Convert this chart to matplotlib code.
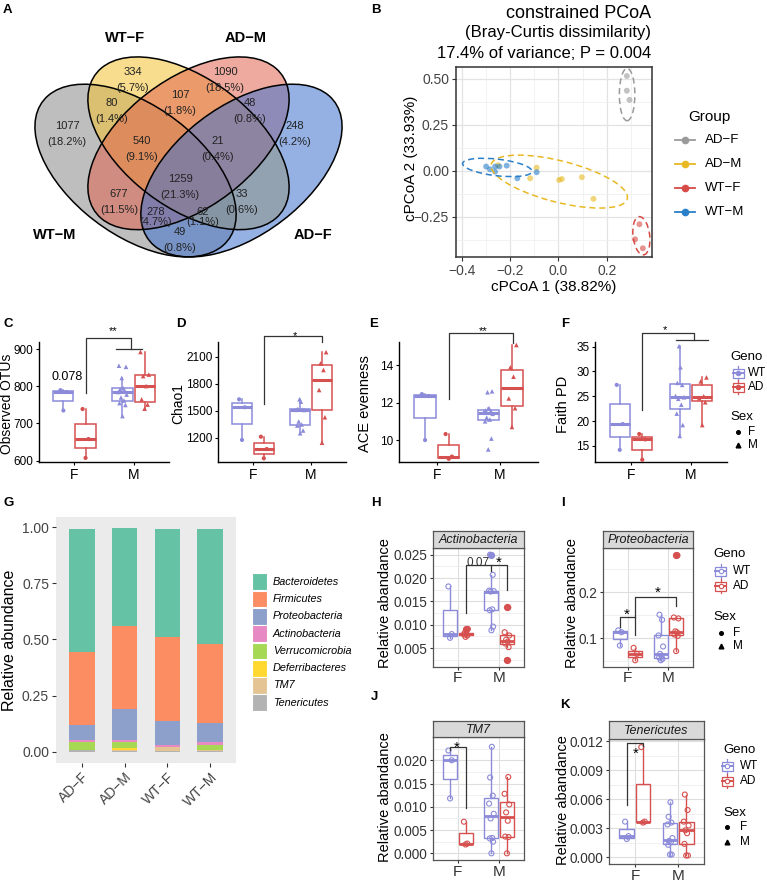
import numpy as np
import matplotlib
matplotlib.use("Agg")
import matplotlib.pyplot as plt
from matplotlib.patches import Ellipse, Rectangle

plt.rcParams['font.family'] = ['Liberation Sans', 'DejaVu Sans']
plt.rcParams['axes.unicode_minus'] = True

# ======================= DATA =======================
# A: Venn diagram (OTU counts per region)
venn_sets = ['WT−F', 'AD−M', 'WT−M', 'AD−F']
venn_counts = [334, 1090, 80, 107, 48, 1077, 248, 540, 21, 1259, 677, 33, 278, 62, 49]

# B: constrained PCoA
pcoa_groups = ['AD−F', 'AD−M', 'WT−F', 'WT−M']
adf_x = [0.283, 0.283, 0.294]
adf_y = [0.516, 0.436, 0.386]
adm_x = [-0.250, -0.117, -0.090, 0.003, 0.014, 0.097, 0.145]
adm_y = [0.030, -0.041, 0.017, -0.050, -0.045, -0.035, -0.153]
wtf_x = [0.335, 0.317, 0.349]
wtf_y = [-0.291, -0.373, -0.422]
wtm_x = [-0.299, -0.283, -0.262, -0.244, -0.262, -0.214, -0.170, -0.090]
wtm_y = [0.023, 0.008, 0.023, 0.023, -0.005, 0.028, -0.041, -0.008]
# confidence ellipses (centre x, centre y, width, height, angle)
ell_cx = [0.284, 0.0035, 0.343, -0.253]
ell_cy = [0.415, -0.059, -0.354, 0.018]
ell_w = [0.064, 0.594, 0.069, 0.290]
ell_h = [0.285, 0.220, 0.209, 0.090]
ell_ang = [0.0, -19.7, 4.7, -9.1]

# C-F: alpha diversity (F/M x WT/AD)
sexes = ['F', 'M']
genos = ['WT', 'AD']
otu_wt_f = [735, 785, 790]
otu_ad_f = [607, 658, 739]
otu_wt_m = [720, 750, 755, 762, 770, 778, 785, 788, 792, 795, 823, 853, 856]
otu_ad_m = [740, 751, 765, 801, 828, 832, 893]
chao_wt_f = [1175, 1538, 1626]
chao_ad_f = [971, 1074, 1211]
chao_wt_m = [1249, 1280, 1335, 1347, 1380, 1508, 1510, 1512, 1518, 1600, 1626]
chao_ad_m = [1144, 1427, 1730, 1952, 2025, 2150]
ace_wt_f = [10.0, 12.35, 12.45]
ace_ad_f = [9.0, 9.12, 10.32]
ace_wt_m = [9.5, 10.08, 11.0, 11.1, 11.2, 11.4, 11.5, 11.55, 11.58, 11.7, 12.55, 12.6]
ace_ad_m = [10.7, 11.7, 12.22, 13.38, 13.88, 15.07]
faith_wt_f = [14.2, 19.4, 27.3]
faith_ad_f = [12.2, 16.3, 17.4]
faith_wt_m = [17.0, 19.2, 21.5, 23.3, 24.5, 24.8, 25.06, 27.3, 27.7, 30.85, 35.1]
faith_ad_m = [19.2, 23.8, 24.6, 25.0, 28.0, 28.8]

# G: phylum composition
groups_g = ['AD−F', 'AD−M', 'WT−F', 'WT−M']
phyla = ['Bacteroidetes', 'Firmicutes', 'Proteobacteria', 'Actinobacteria',
         'Verrucomicrobia', 'Deferribacteres', 'TM7', 'Tenericutes']
bacteroidetes = [0.551, 0.435, 0.484, 0.514]
firmicutes = [0.324, 0.369, 0.372, 0.353]
proteobacteria = [0.067, 0.138, 0.107, 0.081]
actinobacteria = [0.008, 0.007, 0.007, 0.015]
verrucomicrobia = [0.033, 0.030, 0.003, 0.020]
deferribacteres = [0.002, 0.005, 0.001, 0.001]
tm7 = [0.002, 0.007, 0.017, 0.007]
tenericutes = [0.006, 0.003, 0.002, 0.002]

# H-K: relative abundance per phylum
actino_wt_f = [0.0072, 0.0080, 0.0182]
actino_ad_f = [0.0074, 0.0077, 0.0079, 0.0081, 0.0083, 0.0091]
actino_wt_m = [0.0088, 0.0096, 0.0131, 0.0133, 0.0171, 0.0172, 0.0173, 0.0207, 0.0250]
actino_ad_m = [0.0024, 0.0052, 0.0060, 0.0064, 0.0068, 0.0077, 0.0084, 0.0137]
proteo_wt_f = [0.084, 0.113, 0.117]
proteo_ad_f = [0.052, 0.066, 0.079]
proteo_wt_m = [0.052, 0.055, 0.058, 0.062, 0.066, 0.082, 0.106, 0.140, 0.151]
proteo_ad_m = [0.072, 0.105, 0.108, 0.113, 0.115, 0.143, 0.145, 0.280]
tm7_wt_f = [0.0118, 0.0200, 0.0221]
tm7_ad_f = [0.0019, 0.0021, 0.0068]
tm7_wt_m = [0.0, 0.0025, 0.0032, 0.0033, 0.0075, 0.0085, 0.0107, 0.0124, 0.0163, 0.0229]
tm7_ad_m = [0.0, 0.0035, 0.0036, 0.0070, 0.0088, 0.0105, 0.0128, 0.0164]
ten_wt_f = [0.0019, 0.0022, 0.0037]
ten_ad_f = [0.0036, 0.0037, 0.0114]
ten_wt_m = [0.0003, 0.0003, 0.0013, 0.0016, 0.0017, 0.0020, 0.0034, 0.0036, 0.0042, 0.0057]
ten_ad_m = [0.0002, 0.0002, 0.0014, 0.0025, 0.0028, 0.0033, 0.0037, 0.0049, 0.0065]

# ======================= STYLE / LAYOUT =======================
W, H = 767, 885
fig = plt.figure(figsize=(W / 100, H / 100), dpi=100)

def add_ax(x0, y0, x1, y1, **kw):
    return fig.add_axes([x0 / W, 1 - y1 / H, (x1 - x0) / W, (y1 - y0) / H], **kw)

ov = fig.add_axes([0, 0, 1, 1], zorder=50)
ov.set_xlim(0, W); ov.set_ylim(H, 0); ov.axis('off')

def T(x, y, s, size, **kw):
    kw.setdefault('ha', 'center'); kw.setdefault('va', 'center')
    kw.setdefault('color', 'black')
    ov.text(x, y, s, fontsize=size, **kw)

C_WT = '#8B8BDA'
C_AD = '#D6504F'
TXT = '#333333'
JIT = np.array([0.0, 0.05, -0.05, 0.025, -0.025, 0.07, -0.07, 0.04, -0.04,
                0.012, -0.012, 0.06, -0.06])

# panel letters
for lab, x, y in [('A', 3, 10), ('B', 371, 10), ('C', 3, 324), ('D', 176, 324),
                  ('E', 369, 324), ('F', 561, 324), ('G', 3, 503), ('H', 371, 503),
                  ('I', 561, 503), ('J', 371, 697), ('K', 560, 705)]:
    T(x, y, lab, 9.5, weight='bold', ha='left')

# ======================= A: Venn =======================
axA = add_ax(12, 13, 365, 316)
axA.set_xlim(0, 1); axA.set_ylim(0, 1); axA.axis('off')
venn_shapes = [((0.50, 0.57), 135, '#F2C230'),   # WT-F
               ((0.50, 0.57), 45, '#E0644F'),    # AD-M
               ((0.35, 0.48), 135, '#8A8A8A'),   # WT-M
               ((0.65, 0.48), 45, '#3F72CF')]    # AD-F
draw_order = [2, 0, 1, 3]
for i in draw_order:
    c, ang, col = venn_shapes[i]
    axA.add_patch(Ellipse(c, 0.70, 0.40, angle=ang, facecolor=col, alpha=0.55, lw=0))
for i in draw_order:
    c, ang, col = venn_shapes[i]
    axA.add_patch(Ellipse(c, 0.70, 0.40, angle=ang, fill=False, ec='black', lw=1.1))
venn_xy = [(133, 72, 88), (225, 72, 88), (112, 103, 119), (180, 95, 111), (250, 103, 119),
           (67, 126, 142), (295, 126, 142), (142, 141, 157), (218, 141, 157),
           (180, 179, 195), (119, 194, 210), (242, 194, 210), (156, 212, 222),
           (203, 212, 222), (180, 232, 248)]
total = sum(venn_counts)
for cnt, (x, y1, y2) in zip(venn_counts, venn_xy):
    T(x, y1, f'{cnt}', 8, color='#222222')
    T(x, y2, f'({100 * cnt / total:.1f}%)', 8, color='#222222')
for name, (x, y) in zip(venn_sets, [(125, 38), (246, 38), (55, 235), (313, 235)]):
    T(x, y, name, 10.5, weight='bold')

# ======================= B: PCoA =======================
axB = add_ax(456, 67, 652, 257)
axB.set_xlim(-0.4236, 0.387); axB.set_ylim(-0.4695, 0.565)
axB.set_xticks([-0.4, -0.2, 0.0, 0.2])
axB.set_xticklabels(['−0.4', '−0.2', '0.0', '0.2'])
axB.set_yticks([-0.25, 0.0, 0.25, 0.50])
axB.set_yticklabels(['−0.25', '0.00', '0.25', '0.50'])
axB.set_xticks([-0.3, -0.1, 0.1, 0.3], minor=True)
axB.set_yticks([-0.375, -0.125, 0.125, 0.375], minor=True)
axB.grid(which='major', color='#E3E3E3', lw=0.9)
axB.grid(which='minor', color='#F0F0F0', lw=0.6)
axB.set_axisbelow(True)
axB.tick_params(which='minor', length=0)
axB.tick_params(which='major', length=3, color=TXT, labelsize=10, labelcolor='#444444', pad=2)
for s in axB.spines.values():
    s.set_color('#333333'); s.set_linewidth(1.1)
pc_cols = ['#9A9A9A', '#E8B923', '#D64B46', '#2A7FC9']
pc_data = [(adf_x, adf_y), (adm_x, adm_y), (wtf_x, wtf_y), (wtm_x, wtm_y)]
for (xs, ys), col in zip(pc_data, pc_cols):
    axB.scatter(xs, ys, s=18, color=col, alpha=0.6, edgecolors='none', zorder=3)
for i, col in enumerate(pc_cols):
    axB.add_patch(Ellipse((ell_cx[i], ell_cy[i]), ell_w[i], ell_h[i], angle=ell_ang[i],
                          fill=False, ec=col, ls=(0, (4, 2.5)), lw=1.1, zorder=4))
ov.text(651, 13, 'constrained PCoA', fontsize=13, ha='right', va='center')
ov.text(651, 33, '(Bray-Curtis dissimilarity)', fontsize=12, ha='right', va='center')
ov.text(651, 53, '17.4% of variance; P = 0.004', fontsize=12, ha='right', va='center')
T(554, 287, 'cPCoA 1 (38.82%)', 11)
T(411, 158, 'cPCoA 2 (33.93%)', 11, rotation=90)
T(688, 117, 'Group', 11, ha='left')
for g, col, y in zip(pcoa_groups, pc_cols, [140, 164, 188, 212]):
    ov.plot([675, 695], [y, y], color=col, lw=1.3)
    ov.plot([685], [y], 'o', color=col, ms=4.5)
    T(705, y, g, 9.5, ha='left')

# ======================= C-F: alpha diversity =======================
def bracket(ax, xs, ys, lw=0.9):
    ax.plot(xs, ys, color='#333333', lw=lw, clip_on=False, zorder=5)

def alpha_panel(box, ylim, yticks, vals):
    ax = add_ax(*box)
    series = [(0.8125, vals[0], C_WT, 'o'), (1.1875, vals[1], C_AD, 'o'),
              (1.8125, vals[2], C_WT, '^'), (2.1875, vals[3], C_AD, '^')]
    for pos, v, col, mk in series:
        ax.boxplot([v], positions=[pos], widths=0.34, whis=1.5, showfliers=False,
                   showcaps=False, patch_artist=True, manage_ticks=False,
                   boxprops=dict(facecolor='none', edgecolor=col, linewidth=1.1),
                   medianprops=dict(color=col, linewidth=2.2),
                   whiskerprops=dict(color=col, linewidth=1.1))
        xs = pos + JIT[:len(v)]
        ax.scatter(xs, v, s=9 if mk == 'o' else 11, marker=mk, color=col,
                   edgecolors='none', zorder=4)
    ax.set_xlim(0.4, 2.6); ax.set_ylim(*ylim)
    ax.set_yticks(yticks)
    ax.set_xticks([1, 2]); ax.set_xticklabels(sexes)
    ax.spines['top'].set_visible(False); ax.spines['right'].set_visible(False)
    for s in ['left', 'bottom']:
        ax.spines[s].set_linewidth(1.0); ax.spines[s].set_color('black')
    ax.tick_params(length=2.5, width=0.8, labelsize=8.5, pad=1.5)
    ax.tick_params(axis='x', labelsize=10, pad=2)
    ax.patch.set_alpha(0)
    return ax

axC = alpha_panel((39, 342, 169, 462), (596, 920), [600, 700, 800, 900],
                  [otu_wt_f, otu_ad_f, otu_wt_m, otu_ad_m])
bracket(axC, [1.19, 1.19, 1.96, 1.96], [782, 931, 931, 900])
bracket(axC, [1.70, 2.15], [900, 900])
T(67, 377, '0.078', 9)
T(113, 331, '**', 8)
T(7.5, 404, 'Observed OTUs', 10, rotation=90)

axD = alpha_panel((218, 342, 346, 462), (930, 2263), [1200, 1500, 1800, 2100],
                  [chao_wt_f, chao_ad_f, chao_wt_m, chao_ad_m])
bracket(axD, [1.19, 1.19, 2.19, 2.19], [1574, 2330, 2330, 2260])
T(295, 336, '*', 8)
T(178, 404, 'Chao1', 10, rotation=90)

axE = alpha_panel((399, 342, 538, 462), (8.83, 15.23), [10, 12, 14],
                  [ace_wt_f, ace_ad_f, ace_wt_m, ace_ad_m])
bracket(axE, [1.19, 1.19, 2.2, 2.2], [12.19, 15.72, 15.72, 15.16])
T(483, 331, '**', 8)
T(365, 404, 'ACE evenness', 10.5, rotation=90)

axF = alpha_panel((595, 342, 727, 462), (11.75, 35.94), [15, 20, 25, 30, 35],
                  [faith_wt_f, faith_ad_f, faith_wt_m, faith_ad_m])
bracket(axF, [1.19, 1.19, 2.05, 2.05], [22.2, 37.8, 37.8, 36.35])
bracket(axF, [1.75, 2.28], [36.35, 36.35])
T(665, 330, '*', 8)
T(563, 404, 'Faith PD', 10.5, rotation=90)

def box_key(x, y, col, filled):
    w, h = 11, 9
    ov.add_patch(Rectangle((x - w / 2, y - h / 2), w, h, fill=False, ec=col, lw=0.9))
    ov.plot([x, x], [y - h / 2 - 2.5, y - h / 2], color=col, lw=0.9)
    ov.plot([x, x], [y + h / 2, y + h / 2 + 2.5], color=col, lw=0.9)
    ov.plot([x - w / 2, x + w / 2], [y, y], color=col, lw=1.4)
    ov.plot([x], [y], 'o', ms=3.2, mec=col, mfc=col if filled else 'white', mew=0.8)

def geno_sex_legend(x0, ykeys, xkey, xtxt, filled, tsize=9.5, esize=8.5):
    T(x0, ykeys[0], 'Geno', tsize, ha='left')
    box_key(xkey, ykeys[1], C_WT, filled); T(xtxt, ykeys[1], 'WT', esize, ha='left')
    box_key(xkey, ykeys[2], C_AD, filled); T(xtxt, ykeys[2], 'AD', esize, ha='left')
    T(x0, ykeys[3], 'Sex', tsize, ha='left')
    ov.plot([xkey], [ykeys[4]], 'o', ms=2.6, color='black')
    T(xtxt, ykeys[4], 'F', esize, ha='left')
    ov.plot([xkey], [ykeys[5]], '^', ms=3.4, color='black')
    T(xtxt, ykeys[5], 'M', esize, ha='left')

geno_sex_legend(730, [357, 373, 387, 417, 432, 445], 738, 748, True)

# ======================= G: stacked bars =======================
axG = add_ax(56, 517, 236, 763)
axG.set_facecolor('#EBEBEB')
for s in axG.spines.values():
    s.set_visible(False)
xg = np.arange(1, len(groups_g) + 1)
stack = [tenericutes, tm7, deferribacteres, verrucomicrobia, actinobacteria,
         proteobacteria, firmicutes, bacteroidetes]
stack_cols = ['#B3B3B3', '#E5C494', '#FFD92F', '#A6D854', '#E78AC3',
              '#8DA0CB', '#FC8D62', '#66C2A5']
bottom = np.zeros(len(groups_g))
for vals, col in zip(stack, stack_cols):
    axG.bar(xg, vals, bottom=bottom, width=0.6, color=col, edgecolor='none')
    bottom += np.array(vals)
axG.set_xlim(0.4, 4.6); axG.set_ylim(-0.05, 1.045)
axG.set_yticks([0, 0.25, 0.5, 0.75, 1.0])
axG.set_yticklabels(['0.00', '0.25', '0.50', '0.75', '1.00'])
axG.set_xticks(xg)
axG.set_xticklabels(groups_g, rotation=45, ha='right', rotation_mode='anchor')
axG.tick_params(length=3, color=TXT, labelsize=10, labelcolor='#444444', pad=2)
T(10, 640, 'Relative abundance', 11.5, rotation=90)
leg_cols = stack_cols[::-1]
for i, (name, col) in enumerate(zip(phyla, leg_cols)):
    yc = 581.7 + i * 17.3
    ov.add_patch(Rectangle((252, yc - 8.4), 15, 16.8, fc=col, ec='white', lw=0.8))
    T(273, yc, name, 7.8, ha='left', style='italic')

# ======================= H-K: relative abundance panels =======================
def rel_panel(box, strip_top, title, ylim, yticks, yticklabels, minor, vals):
    x0, y0, x1, y1 = box
    ax = add_ax(*box)
    series = [(0.8125, vals[0], C_WT), (1.1875, vals[1], C_AD),
              (1.8125, vals[2], C_WT), (2.1875, vals[3], C_AD)]
    for pos, v, col in series:
        ax.boxplot([v], positions=[pos], widths=0.34, whis=1.5, showfliers=True,
                   showcaps=False, patch_artist=True, manage_ticks=False,
                   boxprops=dict(facecolor='none', edgecolor=col, linewidth=1.0),
                   medianprops=dict(color=col, linewidth=2.0),
                   whiskerprops=dict(color=col, linewidth=1.0),
                   flierprops=dict(marker='o', markerfacecolor=col, markeredgecolor=col,
                                   markersize=4.2))
        xs = pos + 0.8 * JIT[:len(v)]
        ax.scatter(xs, v, s=13, marker='o', facecolors='none', edgecolors=col,
                   linewidths=0.8, zorder=4)
    ax.set_xlim(0.4, 2.6); ax.set_ylim(*ylim)
    ax.set_yticks(yticks); ax.set_yticklabels(yticklabels)
    ax.set_yticks(minor, minor=True)
    ax.set_xticks([1, 2]); ax.set_xticklabels(sexes)
    ax.grid(which='major', color='#DEDEDE', lw=0.8)
    ax.grid(which='minor', axis='y', color='#EEEEEE', lw=0.6)
    ax.set_axisbelow(True)
    ax.tick_params(which='minor', length=0)
    ax.tick_params(which='major', length=2.5, color=TXT, labelsize=9.8,
                   labelcolor='#333333', pad=1.5)
    ax.tick_params(axis='x', labelsize=11, pad=1)
    for s in ax.spines.values():
        s.set_color('#555555'); s.set_linewidth(0.9)
    sax = add_ax(x0, strip_top, x1, y0)
    sax.set_facecolor('#D9D9D9')
    sax.set_xticks([]); sax.set_yticks([])
    for s in sax.spines.values():
        s.set_color('#555555'); s.set_linewidth(0.9)
    sax.text(0.5, 0.45, title, transform=sax.transAxes, ha='center', va='center',
             fontsize=9, style='italic', color='#1A1A1A')
    return ax

axH = rel_panel((433, 548, 524, 666.5), 531, 'Actinobacteria', (0.00106, 0.02643),
                [0.005, 0.010, 0.015, 0.020, 0.025],
                ['0.005', '0.010', '0.015', '0.020', '0.025'],
                [0.0025, 0.0075, 0.0125, 0.0175, 0.0225],
                [actino_wt_f, actino_ad_f, actino_wt_m, actino_ad_m])
bracket(axH, [1.1875, 1.1875, 1.8125, 1.8125], [0.0125, 0.02286, 0.02286, 0.02142])
bracket(axH, [1.8125, 2.1875, 2.1875], [0.02286, 0.02286, 0.0175])
T(478, 563, '0.07', 8.5, color='#333333')
T(499, 563, '*', 11)
T(385, 603, 'Relative abandance', 10.5, rotation=90)

axI = rel_panel((603, 548, 693, 666.5), 531, 'Proteobacteria', (0.0385, 0.296),
                [0.1, 0.2], ['0.1', '0.2'], [0.05, 0.15, 0.25],
                [proteo_wt_f, proteo_ad_f, proteo_wt_m, proteo_ad_m])
bracket(axI, [0.8125, 0.8125, 1.1875], [0.124, 0.1457, 0.1457])
bracket(axI, [1.1875, 1.1875, 2.1875, 2.1875], [0.106, 0.189, 0.189, 0.171])
T(627, 615, '*', 11)
T(658, 593, '*', 11)
T(572, 603, 'Relative abandance', 10.5, rotation=90)
geno_sex_legend(713, [554, 571, 586, 617, 633, 646], 720.5, 733, False, 9.5, 8.5)

axJ = rel_panel((433, 737, 524, 860), 721, 'TM7', (-0.00143, 0.025),
                [0.0, 0.005, 0.010, 0.015, 0.020],
                ['0.000', '0.005', '0.010', '0.015', '0.020'],
                [0.0025, 0.0075, 0.0125, 0.0175, 0.0225],
                [tm7_wt_f, tm7_ad_f, tm7_wt_m, tm7_ad_m])
bracket(axJ, [0.8125, 0.8125, 1.1875, 1.1875], [0.02214, 0.02285, 0.02285, 0.00965])
T(457, 748, '*', 11)
T(385, 797, 'Relative abandance', 10.5, rotation=90)

axK = rel_panel((609, 739, 704, 864), 721, 'Tenericutes', (-0.00068, 0.01224),
                [0.0, 0.003, 0.006, 0.009, 0.012],
                ['0.000', '0.003', '0.006', '0.009', '0.012'],
                [0.0015, 0.0045, 0.0075, 0.0105],
                [ten_wt_f, ten_ad_f, ten_wt_m, ten_ad_m])
bracket(axK, [0.8125, 0.8125, 1.1875, 1.1875], [0.00541, 0.01184, 0.01184, 0.0115])
T(636, 754, '*', 11)
T(563, 800, 'Relative abandance', 10.5, rotation=90)
geno_sex_legend(723, [750, 766, 781, 813, 827, 842], 727, 740, False, 9.5, 8.5)

fig.savefig('out.png', dpi=100)
